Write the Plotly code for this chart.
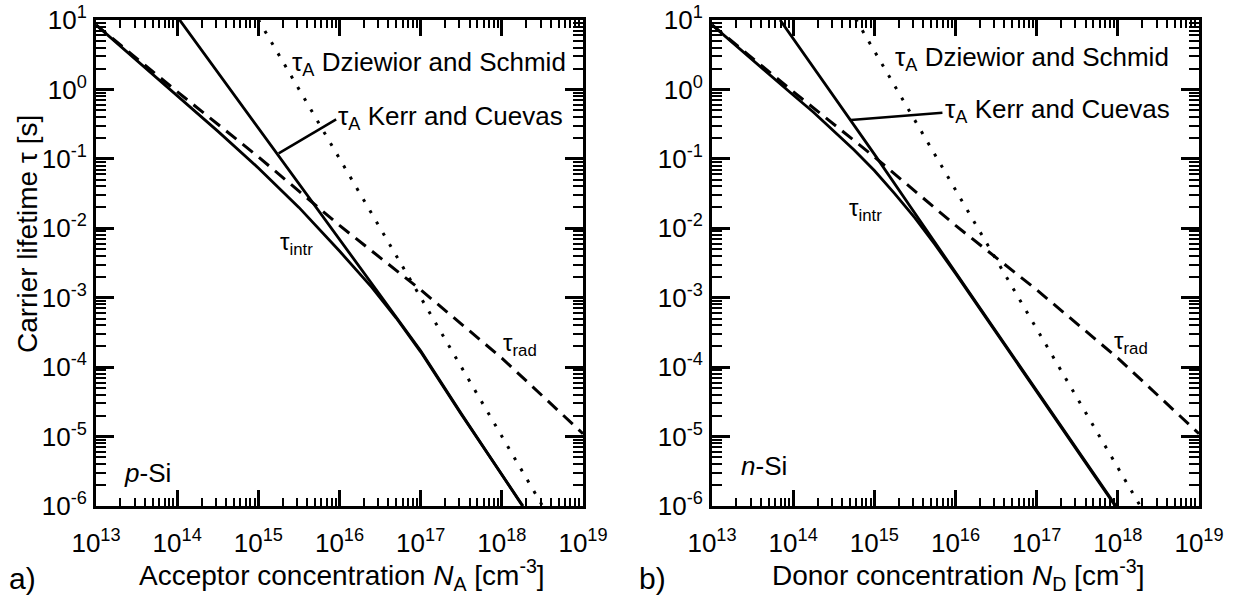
import plotly.graph_objects as go

# ---- axis ticks -------------------------------------------------------------
x_tick_vals = [1e13, 1e14, 1e15, 1e16, 1e17, 1e18, 1e19]
x_tick_text = ["10<sup>13</sup>", "10<sup>14</sup>", "10<sup>15</sup>", "10<sup>16</sup>",
               "10<sup>17</sup>", "10<sup>18</sup>", "10<sup>19</sup>"]
y_tick_vals = [1e-6, 1e-5, 1e-4, 1e-3, 1e-2, 1e-1, 1e0, 1e1]
y_tick_text = ["10<sup>-6</sup>", "10<sup>-5</sup>", "10<sup>-4</sup>", "10<sup>-3</sup>",
               "10<sup>-2</sup>", "10<sup>-1</sup>", "10<sup>0</sup>", "10<sup>1</sup>"]
minor_steps = [2, 3, 4, 5, 6, 7, 8, 9]

# ---- radiative lifetime (same for both dopant types) ------------------------
N_rad = [1e13, 1e14, 1e15, 1e16, 1e17, 1e18, 1e19]
tau_rad = [8.5, 0.93, 0.107, 1.1e-2, 1.3e-3, 1.35e-4, 1.1e-5]

# ---- p-type silicon ---------------------------------------------------------
N_intr_p = [1e13, 3.16e13, 1e14, 3.16e14, 1e15, 3.16e15, 1e16, 2.5e16, 5.0e16,
            1e17, 3.16e17, 1.82e18]
tau_intr_p = [8.5, 2.63, 0.83, 0.251, 0.074, 0.020, 4.7e-3, 1.41e-3, 5.1e-4,
              1.66e-4, 2.1e-5, 1.0e-6]

N_kerr_p = [1e14, 1e15, 1e16, 5.0e16, 1e17, 3.16e17, 1.8e18]
tau_kerr_p = [11.2, 0.282, 7.1e-3, 5.4e-4, 1.72e-4, 2.15e-5, 1.0e-6]

N_dz_p = [1e15, 1e16, 1e17, 1e18, 1e19]
tau_dz_p = [10.1, 0.101, 1.01e-3, 1.01e-5, 1.01e-7]

# label leader for the Kerr-Cuevas curve (p-Si)
N_lead_p = [1.78e15, 9.1e15]
tau_lead_p = [0.12, 0.37]

# ---- n-type silicon ---------------------------------------------------------
N_intr_n = [1e13, 3.16e13, 1e14, 1.78e14, 3.16e14, 5.6e14, 1e15, 1.78e15, 3.16e15,
            5.6e15, 1e16, 3.16e16, 1e17, 3.16e17, 9.3e17]
tau_intr_n = [8.5, 2.63, 0.83, 0.47, 0.25, 0.135, 0.068, 0.0316, 0.0141,
              5.8e-3, 2.24e-3, 3.16e-4, 4.47e-5, 6.3e-6, 1.0e-6]

N_kerr_n = [6.9e13, 1e14, 5.13e14, 1e15, 3.16e15, 1e16, 1e17, 9.5e17]
tau_kerr_n = [10.0, 5.4, 0.363, 0.117, 0.0165, 2.3e-3, 4.6e-5, 1.0e-6]

N_dz_n = [5.9e14, 1e15, 1e16, 1e17, 1e18, 1e19]
tau_dz_n = [10.3, 3.57, 0.0357, 3.57e-4, 3.57e-6, 3.57e-8]

N_lead_n = [5.13e14, 6.9e15]
tau_lead_n = [0.363, 0.46]

FONT = "Liberation Sans, Arial, Helvetica, sans-serif"
W, H = 1238, 599

fig = go.Figure()


def px_x(p):
    return p / W


def px_y(p):
    return 1 - p / H


# panel frames in pixels
LEFT_A, LEFT_B, PANEL_W = 96, 712, 487
TOP, PANEL_H = 20, 486
x_dom_a = [px_x(LEFT_A), px_x(LEFT_A + PANEL_W)]
x_dom_b = [px_x(LEFT_B), px_x(LEFT_B + PANEL_W)]
y_dom = [px_y(TOP + PANEL_H), px_y(TOP)]

X_RANGE = [13, 19]
Y_RANGE = [-6, 1]

x_minor = [m * d for d in x_tick_vals[:-1] for m in minor_steps]
y_minor = [m * d for d in y_tick_vals[:-1] for m in minor_steps]


def add_panel(xa, ya, N_intr, tau_intr, N_kerr, tau_kerr, N_dz, tau_dz, N_lead, tau_lead):
    common = dict(xaxis=xa, yaxis=ya, mode="lines", showlegend=False, hoverinfo="skip")
    fig.add_trace(go.Scatter(x=N_rad, y=tau_rad, line=dict(color="black", width=3, dash="13px,8px"), **common))
    fig.add_trace(go.Scatter(x=N_dz, y=tau_dz, line=dict(color="black", width=3, dash="3px,10px"), **common))
    fig.add_trace(go.Scatter(x=N_kerr, y=tau_kerr, line=dict(color="black", width=2.8), **common))
    fig.add_trace(go.Scatter(x=N_intr, y=tau_intr, line=dict(color="black", width=2.8), **common))
    fig.add_trace(go.Scatter(x=N_lead, y=tau_lead, line=dict(color="black", width=2.5), **common))


add_panel("x", "y", N_intr_p, tau_intr_p, N_kerr_p, tau_kerr_p, N_dz_p, tau_dz_p, N_lead_p, tau_lead_p)
add_panel("x2", "y2", N_intr_n, tau_intr_n, N_kerr_n, tau_kerr_n, N_dz_n, tau_dz_n, N_lead_n, tau_lead_n)

# boxed frame with inward major and minor ticks on all four sides
frame = dict(showline=True, linewidth=3, linecolor="black", mirror="allticks",
             showgrid=False, zeroline=False, automargin=False,
             ticks="inside", tickcolor="black", tickwidth=2.5)

x_axis = dict(type="log", range=X_RANGE, tickmode="array", tickvals=x_tick_vals, ticktext=x_tick_text,
              ticklen=16, ticklabelstandoff=12, tickfont=dict(family=FONT, size=26, color="black"),
              minor=dict(ticks="inside", ticklen=8, tickwidth=2, tickcolor="black",
                         tickmode="array", tickvals=x_minor, showgrid=False),
              **frame)
y_axis = dict(type="log", range=Y_RANGE, tickmode="array", tickvals=y_tick_vals, ticktext=y_tick_text,
              ticklen=18, ticklabelstandoff=1, tickfont=dict(family=FONT, size=26, color="black"),
              minor=dict(ticks="inside", ticklen=10, tickwidth=2, tickcolor="black",
                         tickmode="array", tickvals=y_minor, showgrid=False),
              **frame)

fig.update_layout(
    width=W, height=H, autosize=False,
    margin=dict(l=0, r=0, t=0, b=0, autoexpand=False),
    paper_bgcolor="white", plot_bgcolor="white",
    font=dict(family=FONT, color="black"),
    xaxis=dict(domain=x_dom_a, anchor="y", **x_axis),
    yaxis=dict(domain=y_dom, anchor="x", **y_axis),
    xaxis2=dict(domain=x_dom_b, anchor="y2", **x_axis),
    yaxis2=dict(domain=y_dom, anchor="x2", **y_axis),
)

TAU = "\u03c4"
LBL = 26


def note(text, x, y, xref, yref, size=LBL, xanchor="left", yanchor="middle", angle=0):
    fig.add_annotation(text=text, x=x, y=y, xref=xref, yref=yref, showarrow=False,
                       xanchor=xanchor, yanchor=yanchor, textangle=angle, borderpad=0,
                       font=dict(family=FONT, size=size, color="black"))


# curve labels, p-Si (log10 coordinates on log axes)
note(f"{TAU}<sub>A</sub> Dziewior and Schmid", 15.40, 0.37, "x", "y")
note(f"{TAU}<sub>A</sub> Kerr and Cuevas", 15.97, -0.41, "x", "y")
note(f"{TAU}<sub>intr</sub>", 15.25, -2.22, "x", "y", size=24)
note(f"{TAU}<sub>rad</sub>", 18.0, -3.67, "x", "y", size=24)
note("<i>p</i>-Si", 13.33, -5.53, "x", "y")

# curve labels, n-Si
note(f"{TAU}<sub>A</sub> Dziewior and Schmid", 15.24, 0.44, "x2", "y2")
note(f"{TAU}<sub>A</sub> Kerr and Cuevas", 15.86, -0.30, "x2", "y2")
note(f"{TAU}<sub>intr</sub>", 14.68, -1.73, "x2", "y2", size=24)
note(f"{TAU}<sub>rad</sub>", 17.94, -3.64, "x2", "y2", size=24)
note("<i>n</i>-Si", 13.34, -5.42, "x2", "y2")

# axis titles
note("Acceptor concentration <i>N</i><sub>A</sub> [cm<sup>-3</sup>]",
     px_x(342), px_y(575), "paper", "paper", size=28, xanchor="center")
note("Donor concentration <i>N</i><sub>D</sub> [cm<sup>-3</sup>]",
     px_x(958), px_y(575), "paper", "paper", size=28, xanchor="center")
note(f"Carrier lifetime {TAU} [s]", px_x(27), px_y(234), "paper", "paper",
     size=28, xanchor="center", angle=-90)

# panel letters
note("a)", px_x(8), px_y(578), "paper", "paper", size=30)
note("b)", px_x(638), px_y(578), "paper", "paper", size=30)

fig.write_html("out.html")
